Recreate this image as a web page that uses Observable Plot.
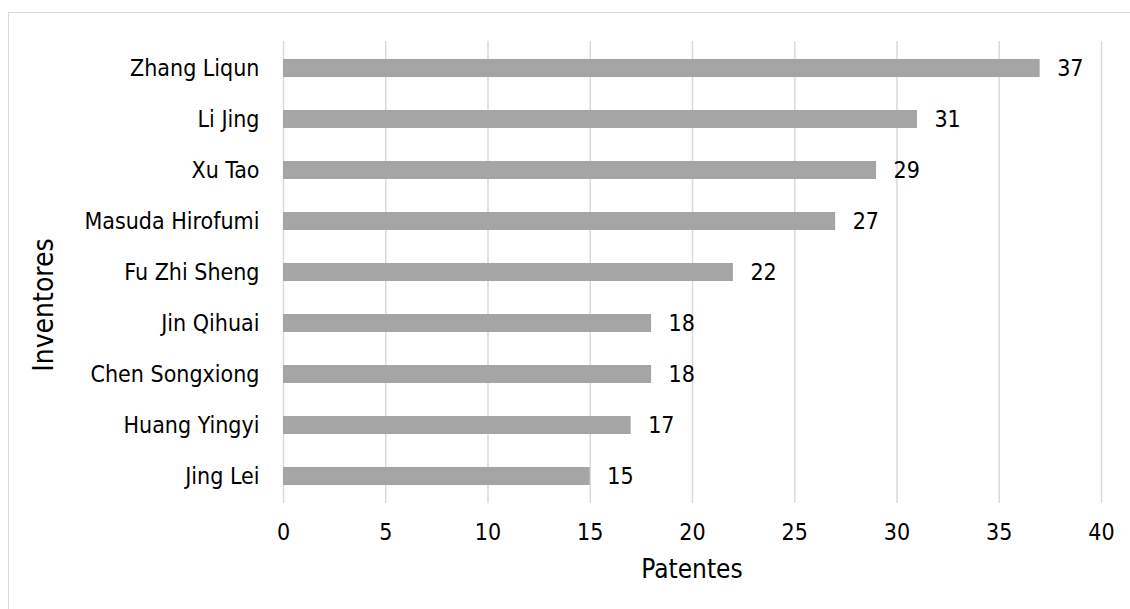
<!DOCTYPE html>
<html>
<head>
<meta charset="utf-8">
<script src="https://cdn.jsdelivr.net/npm/d3@7"></script>
<script src="https://cdn.jsdelivr.net/npm/@observablehq/plot@0.6"></script>
<style>
  html, body { margin: 0; padding: 0; background: #fff; }
  body { width: 1130px; height: 609px; position: relative; overflow: hidden;
         font-family: "DejaVu Sans Condensed", "DejaVu Sans", sans-serif; font-stretch: condensed; }
  #frame { position: absolute; left: 8px; top: 12px; width: 1200px; height: 700px;
           border: 1px solid #d9d9d9; box-sizing: border-box; }
  #chart { position: absolute; left: 0; top: 0; }
  .axtitle { position: absolute; color: #000; white-space: nowrap; }
  #xtitle { left: 692px; top: 578px; font-size: 26px; transform: translate(-50%, -80%); }
  #ytitle { left: 43px; top: 305px; font-size: 28px; transform: translate(-50%, -50%) rotate(-90deg); }
</style>
</head>
<body>
<div id="frame"></div>
<div id="chart"></div>
<div id="xtitle" class="axtitle">Patentes</div>
<div id="ytitle" class="axtitle">Inventores</div>
<script>
const inventors = ["Zhang Liqun", "Li Jing", "Xu Tao", "Masuda Hirofumi", "Fu Zhi Sheng",
                   "Jin Qihuai", "Chen Songxiong", "Huang Yingyi", "Jing Lei"];
const patents = [37, 31, 29, 27, 22, 18, 18, 17, 15];
const xTicks = [0, 5, 10, 15, 20, 25, 30, 35, 40];

const data = inventors.map((name, i) => ({name, value: patents[i]}));

const chart = Plot.plot({
  width: 1130,
  height: 609,
  marginLeft: 283,
  marginRight: 29,
  marginTop: 41,
  marginBottom: 106,
  style: {fontFamily: '"DejaVu Sans Condensed", "DejaVu Sans", sans-serif', fontSize: "23px", color: "#000", background: "transparent"},
  x: {domain: [0, 40], ticks: xTicks, label: null},
  y: {domain: inventors, paddingInner: 0.65, paddingOuter: 0.325, label: null},
  marks: [
    Plot.gridX(xTicks, {stroke: "#d9d9d9", strokeOpacity: 1, strokeWidth: 1.5}),
    Plot.barX(data, {y: "name", x: "value", fill: "#a5a5a5"}),
    Plot.text(data, {y: "name", x: "value", text: d => String(d.value), textAnchor: "start", dx: 17, fill: "#000", fontSize: 23}),
    Plot.axisX({ticks: xTicks, tickSize: 0, tickPadding: 20, label: null, fontSize: 23}),
    Plot.axisY({tickSize: 0, tickPadding: 24, label: null, fontSize: 23})
  ]
});
document.getElementById("chart").appendChild(chart);
</script>
</body>
</html>
